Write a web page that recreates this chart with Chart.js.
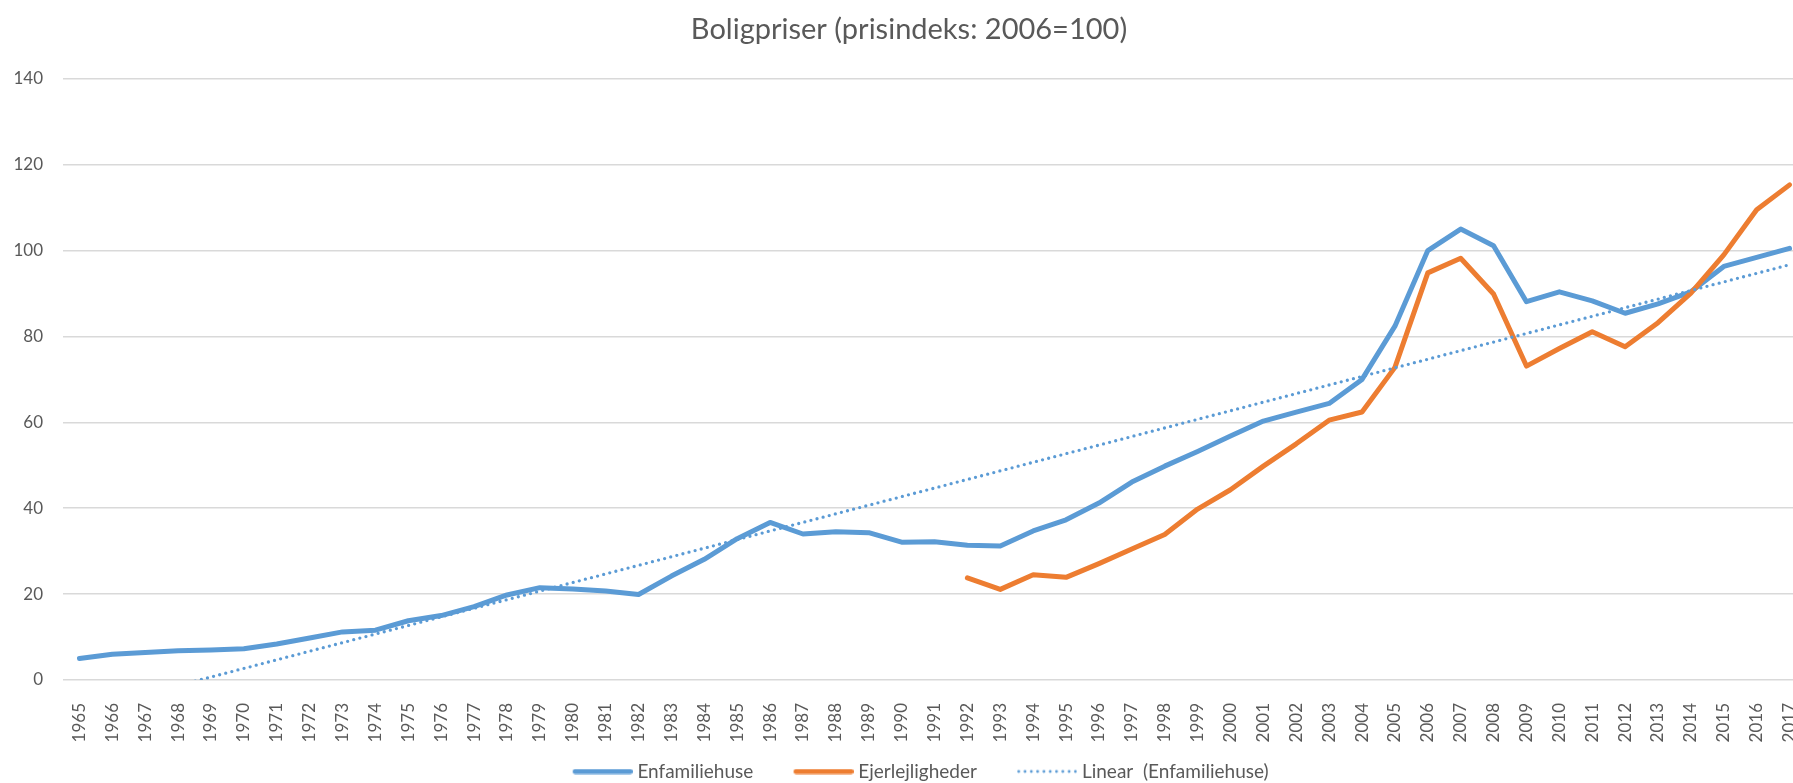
<!DOCTYPE html>
<html>
<head>
<meta charset="utf-8">
<script src="https://cdn.jsdelivr.net/npm/chart.js@4"></script>
<style>
  html, body { margin: 0; padding: 0; background: #fff; overflow: hidden; }
  #wrap { position: absolute; left: 0; top: 0; width: 1830px; height: 791px; }
</style>
</head>
<body>
<div id="wrap"><canvas id="priceChart"></canvas></div>
<script>
const years = ['1965','1966','1967','1968','1969','1970','1971','1972','1973','1974',
  '1975','1976','1977','1978','1979','1980','1981','1982','1983','1984','1985','1986',
  '1987','1988','1989','1990','1991','1992','1993','1994','1995','1996','1997','1998',
  '1999','2000','2001','2002','2003','2004','2005','2006','2007','2008','2009','2010',
  '2011','2012','2013','2014','2015','2016','2017'];

const enfamiliehuse = [5.0, 6.0, 6.4, 6.8, 7.0, 7.3, 8.4, 9.8, 11.2, 11.6,
  13.8, 15.0, 17.1, 19.8, 21.5, 21.2, 20.7, 19.9, 24.2, 28.1, 32.9, 36.7,
  34.0, 34.5, 34.3, 32.1, 32.2, 31.4, 31.2, 34.7, 37.3, 41.2, 46.1, 49.8,
  53.2, 56.8, 60.3, 62.4, 64.4, 70.0, 82.4, 100.0, 105.0, 101.1, 88.1, 90.4,
  88.3, 85.4, 87.6, 90.4, 96.3, 98.4, 100.5];

const ejerlejligheder = [null, null, null, null, null, null, null, null, null, null,
  null, null, null, null, null, null, null, null, null, null, null, null,
  null, null, null, null, null, 23.8, 21.1, 24.5, 23.9, 27.1, 30.5, 33.9,
  39.8, 44.3, 49.8, 55.0, 60.5, 62.4, 72.8, 94.8, 98.2, 89.9, 73.1, 77.2,
  81.1, 77.6, 83.2, 90.1, 99.0, 109.5, 115.3];

// Linear trendline ends (1965 and 2017), as drawn in the picture
const trendEnds = [-7.3, 96.7];

const yTicks = [0, 20, 40, 60, 80, 100, 120, 140];

const BLUE = '#5B9BD5';
const ORANGE = '#ED7D31';
const TEXT = '#595959';
const FONT = 'Lato, "Open Sans", sans-serif';

const trendData = years.map((y, i) => {
  if (i === 0) return trendEnds[0];
  if (i === years.length - 1) return trendEnds[1];
  return null;
});

// legend line sample, drawn in the right part of an 88px wide image
function lineSample(color, dotted) {
  const c = document.createElement('canvas');
  c.width = 88;
  c.height = 6;
  const g = c.getContext('2d');
  g.strokeStyle = color;
  g.lineCap = 'round';
  g.lineWidth = dotted ? 2.8 : 5;
  if (dotted) g.setLineDash([0, 6.3]);
  g.beginPath();
  g.moveTo(dotted ? 29.5 : 30.5, 3);
  g.lineTo(dotted ? 86.5 : 85.5, 3);
  g.stroke();
  return c;
}

const samples = [lineSample(BLUE, false), lineSample(ORANGE, false), lineSample(BLUE, true)];

document.addEventListener('DOMContentLoaded', () => {
  const ctx = document.getElementById('priceChart');
  new Chart(ctx, {
    type: 'line',
    data: {
      labels: years,
      datasets: [
        {
          label: 'Enfamiliehuse',
          data: enfamiliehuse,
          borderColor: BLUE,
          backgroundColor: BLUE,
          borderWidth: 5,
          pointRadius: 0,
          borderJoinStyle: 'round',
          borderCapStyle: 'round',
          order: 3
        },
        {
          label: 'Ejerlejligheder',
          data: ejerlejligheder,
          borderColor: ORANGE,
          backgroundColor: ORANGE,
          borderWidth: 5,
          pointRadius: 0,
          borderJoinStyle: 'round',
          borderCapStyle: 'round',
          order: 2
        },
        {
          label: 'Linear  (Enfamiliehuse)',
          data: trendData,
          borderColor: BLUE,
          backgroundColor: BLUE,
          borderWidth: 3.3,
          borderDash: [0, 6.3],
          borderCapStyle: 'round',
          pointRadius: 0,
          spanGaps: true,
          order: 1
        }
      ]
    },
    options: {
      responsive: true,
      maintainAspectRatio: false,
      animation: false,
      layout: { padding: { left: 12, right: 24, top: 0, bottom: 0 } },
      plugins: {
        tooltip: { enabled: false },
        title: {
          display: true,
          text: 'Boligpriser (prisindeks: 2006=100)',
          color: TEXT,
          font: { family: FONT, size: 29, weight: 'normal' },
          padding: { top: 12, bottom: 32 }
        },
        legend: {
          position: 'bottom',
          labels: {
            usePointStyle: true,
            pointStyleWidth: 78.5,
            boxHeight: 6,
            padding: 17,
            color: TEXT,
            font: { family: FONT, size: 19 },
            generateLabels: (chart) => {
              return chart.data.datasets.map((ds, i) => ({
                text: ds.label,
                datasetIndex: i,
                pointStyle: samples[i],
                fontColor: TEXT,
                lineWidth: 0,
                strokeStyle: ds.borderColor,
                fillStyle: ds.borderColor,
                hidden: false
              }));
            }
          }
        }
      },
      scales: {
        x: {
          offset: true,
          grid: { display: false },
          border: { display: false },
          ticks: {
            autoSkip: false,
            minRotation: 90,
            maxRotation: 90,
            padding: 15,
            color: TEXT,
            font: { family: FONT, size: 17 }
          },
          afterFit: (scale) => { scale.height = 65; }
        },
        y: {
          min: 0,
          max: 140,
          afterBuildTicks: (scale) => { scale.ticks = yTicks.map(v => ({ value: v })); },
          grid: { color: '#D9D9D9', lineWidth: 1.5, drawTicks: false },
          border: { display: false },
          ticks: {
            padding: 20,
            color: TEXT,
            font: { family: FONT, size: 17 }
          },
          afterFit: (scale) => { scale.width = 51; }
        }
      }
    }
  });
});
</script>
</body>
</html>
